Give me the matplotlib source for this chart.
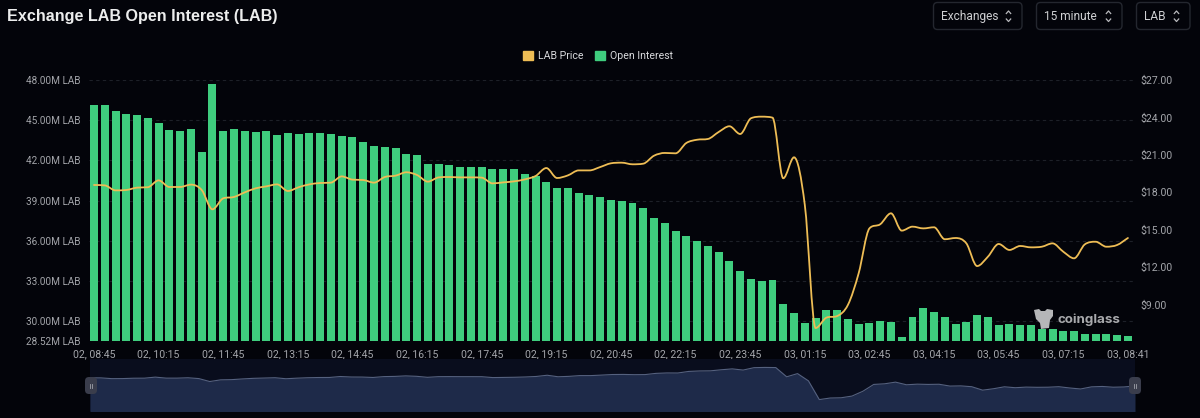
import matplotlib
matplotlib.use("Agg")
import matplotlib.pyplot as plt
import numpy as np
from matplotlib.patches import FancyBboxPatch, Patch, PathPatch, Polygon
from matplotlib.path import Path

# open interest, millions of LAB, one bar per 15 minutes
open_interest = [
    46.11, 46.13, 45.71, 45.49, 45.37, 45.19, 44.81, 44.27, 44.19, 44.32,
    42.63, 47.68, 44.22, 44.32, 44.19, 44.12, 44.17, 43.92, 44.02, 44.00,
    44.02, 44.02, 44.00, 43.84, 43.77, 43.37, 43.10, 43.00, 42.93, 42.46,
    42.38, 41.73, 41.71, 41.68, 41.51, 41.51, 41.51, 41.36, 41.36, 41.36,
    41.01, 40.84, 40.39, 39.92, 39.92, 39.59, 39.44, 39.25, 39.07, 38.99,
    38.80, 38.43, 37.68, 37.31, 36.75, 36.34, 35.99, 35.61, 35.19, 34.51,
    33.77, 33.15, 33.02, 33.10, 31.28, 30.59, 29.84, 30.22, 30.81, 30.81,
    30.19, 29.77, 29.87, 29.99, 29.94, 28.82, 30.34, 30.96, 30.69, 30.29,
    29.77, 29.92, 30.44, 30.29, 29.69, 29.79, 29.69, 29.69, 29.40, 29.40,
    29.29, 29.25, 29.04, 29.07, 29.07, 28.95, 28.92,
]

lab_price = [
    18.58, 18.55, 18.15, 18.18, 18.37, 18.40, 18.95, 18.42, 18.42, 18.61,
    18.18, 16.63, 17.51, 17.62, 17.99, 18.31, 18.47, 18.63, 18.10, 18.40,
    18.63, 18.74, 18.77, 19.27, 19.01, 18.98, 18.77, 19.22, 19.33, 19.60,
    19.38, 18.85, 19.19, 19.22, 19.19, 19.19, 19.17, 18.71, 18.79, 18.87,
    19.03, 19.30, 19.94, 19.14, 19.35, 19.75, 19.75, 20.02, 20.32, 20.37,
    20.24, 20.29, 20.93, 21.15, 21.12, 21.95, 22.21, 22.27, 22.83, 23.29,
    22.67, 23.93, 24.06, 23.98, 19.12, 20.80, 16.98, 7.11, 7.94, 8.07,
    8.96, 11.50, 15.10, 15.43, 16.31, 14.92, 15.24, 15.10, 15.19, 14.23,
    14.33, 13.90, 12.08, 12.83, 13.85, 13.37, 13.69, 13.58, 13.63, 13.90,
    13.23, 12.70, 13.82, 14.03, 13.63, 13.77, 14.33,
]

time_labels = [
    "02, 08:45", "02, 10:15", "02, 11:45", "02, 13:15", "02, 14:45", "02, 16:15",
    "02, 17:45", "02, 19:15", "02, 20:45", "02, 22:15", "02, 23:45", "03, 01:15",
    "03, 02:45", "03, 04:15", "03, 05:45", "03, 07:15", "03, 08:41",
]
oi_ticks = [28.52, 30, 33, 36, 39, 42, 45, 48]
price_ticks = [9, 12, 15, 18, 21, 24, 27]

BG = "#03040a"
GREEN = "#3fcd7e"
YELLOW = "#eebd55"
GREY = "#a3a5aa"
FONT = "Roboto"

W, H = 1200, 418


def px_rect(left, top, right, bottom):
    return [left / W, 1 - bottom / H, (right - left) / W, (bottom - top) / H]


def smooth_path(x, y):
    # bezier through the points, slopes clamped so the big drop doesnt overshoot
    x = np.asarray(x, dtype=float)
    y = np.asarray(y, dtype=float)
    d = np.diff(y) / np.diff(x)
    m = np.zeros_like(y)
    m[0], m[-1] = d[0], d[-1]
    for i in range(1, len(y) - 1):
        if d[i - 1] * d[i] > 0:
            m[i] = np.sign(d[i]) * min((abs(d[i - 1]) + abs(d[i])) / 2, 3 * min(abs(d[i - 1]), abs(d[i])))
    verts = [(x[0], y[0])]
    codes = [Path.MOVETO]
    for i in range(len(y) - 1):
        h = (x[i + 1] - x[i]) / 3
        verts += [(x[i] + h, y[i] + m[i] * h), (x[i + 1] - h, y[i + 1] - m[i + 1] * h), (x[i + 1], y[i + 1])]
        codes += [Path.CURVE4] * 3
    return Path(verts, codes)


plt.rcParams["font.family"] = [FONT, "DejaVu Sans"]
fig = plt.figure(figsize=(W / 100, H / 100), dpi=100, facecolor=BG)

xs = np.arange(len(open_interest))

# main chart
ax = fig.add_axes(px_rect(88.6, 80, 1133.3, 341), facecolor="none")
ax.bar(xs, open_interest, width=0.74, color=GREEN, zorder=3)
ax.set_xlim(-0.5, 96.5)
ax.set_ylim(28.52, 48)
ax.set_yticks(oi_ticks)
ax.set_yticklabels([f"{v:.2f}M LAB" for v in oi_ticks])
ax.set_xticks(xs[::6])
ax.set_xticklabels(time_labels)
ax.tick_params(length=0, colors=GREY, labelsize=7.6)
ax.tick_params(axis="x", pad=6)
ax.tick_params(axis="y", labelsize=7.2, pad=5.5)
ax.yaxis.grid(True, color="#1d2028", linewidth=0.8, linestyle=(0, (3, 3)), zorder=0)
for gl, v in zip(ax.get_ygridlines(), oi_ticks):
    gl.set_visible(v > 29)
for s in ax.spines.values():
    s.set_visible(False)

ax2 = ax.twinx()
ax2.set_ylim(6.07, 27)
ax2.set_yticks(price_ticks)
ax2.set_yticklabels([f"${v:.2f}" for v in price_ticks])
ax2.tick_params(length=0, colors=GREY, labelsize=7.6, pad=5)
for s in ax2.spines.values():
    s.set_visible(False)
ax2.add_patch(PathPatch(smooth_path(xs, lab_price), fill=False, edgecolor=YELLOW, linewidth=1.3, capstyle="round", zorder=5))

fig.legend(
    handles=[Patch(color=YELLOW, label="LAB Price"), Patch(color=GREEN, label="Open Interest")],
    loc="center", bbox_to_anchor=(598 / W, 1 - 56 / H), ncols=2, frameon=False,
    fontsize=7.6, labelcolor="#d8d9dc", handlelength=0.95, handleheight=0.95,
    handletextpad=0.5, columnspacing=1.0,
)

# navigator strip at the bottom
nav = fig.add_axes(px_rect(90, 359, 1135, 411), facecolor="#090d1d")
nav.fill_between(xs, lab_price, 0, color="#1e2a49", linewidth=0)
nav.plot(xs, lab_price, color="#55617f", linewidth=0.8)
nav.set_xlim(0, 96)
nav.set_ylim(1.1, 28.5)
nav.set_xticks([])
nav.set_yticks([])
for s in nav.spines.values():
    s.set_visible(False)

# page furniture, in pixel coordinates
ui = fig.add_axes([0, 0, 1, 1], facecolor="none")
ui.set_xlim(0, W)
ui.set_ylim(H, 0)
ui.axis("off")

ui.text(7, 16.5, "Exchange LAB Open Interest (LAB)", fontfamily="Liberation Sans", fontweight="bold",
        fontsize=11.6, color="#eceded", va="center", ha="left")

for left, right, label in [(933.5, 1022, "Exchanges"), (1036.5, 1122, "15 minute"), (1136.5, 1190, "LAB")]:
    ui.add_patch(FancyBboxPatch((left + 4, 6.5), right - left - 8, 19, boxstyle="round,pad=4",
                                facecolor="none", edgecolor="#24272f", linewidth=1))
    ui.text(left + 7.5, 16.5, label, fontsize=8.6, color="#cfd0d3", va="center", ha="left")
    cx = right - 13.5
    ui.plot([cx - 2.2, cx, cx + 2.2], [13.5, 11, 13.5], color="#b8b9bd", linewidth=0.9)
    ui.plot([cx - 2.2, cx, cx + 2.2], [19, 21.5, 19], color="#b8b9bd", linewidth=0.9)

for cx in [91, 1135]:
    ui.add_patch(FancyBboxPatch((cx - 2, 381), 4, 9, boxstyle="round,pad=4",
                                facecolor="#3a3d4c", edgecolor="none", zorder=6))
    ui.plot([cx - 1, cx - 1], [383.5, 388], color="#a0a2aa", linewidth=0.6, zorder=7)
    ui.plot([cx + 1, cx + 1], [383.5, 388], color="#a0a2aa", linewidth=0.6, zorder=7)

# coinglass watermark
ui.add_patch(Polygon(
    [(1034, 310), (1039, 309), (1041, 311), (1045, 311), (1047, 309), (1053, 310), (1053, 316),
     (1050, 320), (1049, 328), (1041, 329), (1040, 323), (1036, 319)],
    closed=True, facecolor="#b5b6b8", edgecolor="none", zorder=6,
))
ui.text(1057, 319.5, "coinglass", fontfamily="Inter", fontweight="bold", fontsize=9.6,
        color="#a8a9ac", va="center", ha="left", zorder=6)

fig.savefig("out.png", dpi=100, facecolor=BG)
